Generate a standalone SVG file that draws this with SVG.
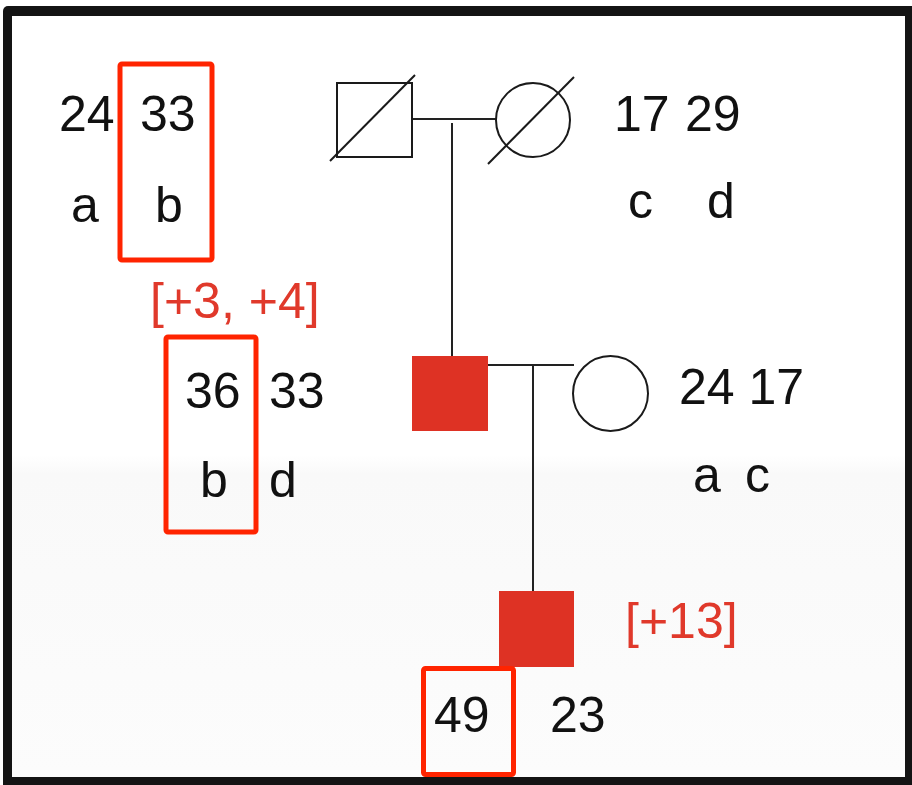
<svg xmlns="http://www.w3.org/2000/svg" width="912" height="785" viewBox="0 0 912 785">
  <defs>
    <linearGradient id="floor" x1="0" y1="0" x2="0" y2="1">
      <stop offset="0" stop-color="#ffffff"/>
      <stop offset="0.06" stop-color="#f9f9f9"/>
      <stop offset="1" stop-color="#fcfcfc"/>
    </linearGradient>
  </defs>
  <style>
    .lbl { font-family: "Liberation Sans", Arial, sans-serif; font-size: 50px; fill: #111111; }
    .gain { font-family: "Liberation Sans", Arial, sans-serif; font-size: 50px; fill: #e0392b; }
    .sym { fill: #ffffff; stroke: #1a1a1a; stroke-width: 2; }
    .aff { fill: #de3224; stroke: none; }
    .dead { stroke: #1a1a1a; stroke-width: 2; fill: none; }
    .hl { fill: none; stroke: #ff2400; stroke-width: 5; }
    .link { stroke: #222222; stroke-width: 2; fill: none; }
  </style>

  <!-- frame -->
  <rect x="3" y="6" width="915" height="785" rx="5" fill="#141414"/>
  <rect x="12" y="16" width="893" height="761" fill="#ffffff"/>
  <rect x="12" y="455" width="893" height="322" fill="url(#floor)"/>

  <!-- connectors -->
  <g id="connectors">
    <line class="link" x1="412" y1="119" x2="496" y2="119"/>
    <line class="link" x1="452" y1="123" x2="452" y2="356"/>
    <line class="link" x1="488" y1="365" x2="574" y2="365"/>
    <line class="link" x1="533" y1="365" x2="533" y2="591"/>
  </g>

  <!-- generation I -->
  <g id="grandfather">
    <rect class="sym" x="337" y="83" width="75" height="74"/>
    <line class="dead" x1="330" y1="161" x2="415" y2="75"/>
  </g>
  <g id="grandmother">
    <circle class="sym" cx="533" cy="120" r="37"/>
    <line class="dead" x1="488" y1="164" x2="574" y2="77"/>
  </g>

  <!-- generation II -->
  <g id="father">
    <rect class="aff" x="412" y="356" width="76" height="75"/>
  </g>
  <g id="mother">
    <circle class="sym" cx="610.5" cy="393.5" r="37.5"/>
  </g>

  <!-- generation III -->
  <g id="proband">
    <rect class="aff" x="499" y="591" width="75" height="76"/>
  </g>

  <!-- repeat sizes and haplotypes -->
  <g id="grandfather-alleles">
    <text class="lbl" x="59" y="131">24</text>
    <text class="lbl" x="140" y="131">33</text>
    <text class="lbl" x="71" y="222">a</text>
    <text class="lbl" x="155" y="222">b</text>
    <rect class="hl" x="120" y="64" width="92" height="196" rx="2"/>
  </g>
  <g id="grandmother-alleles">
    <text class="lbl" x="614" y="131">17</text>
    <text class="lbl" x="685" y="131">29</text>
    <text class="lbl" x="628" y="218">c</text>
    <text class="lbl" x="707" y="218">d</text>
  </g>
  <g id="father-alleles">
    <text class="gain" x="150" y="318">[+3, +4]</text>
    <text class="lbl" x="185" y="408">36</text>
    <text class="lbl" x="269" y="408">33</text>
    <text class="lbl" x="200" y="497">b</text>
    <text class="lbl" x="269" y="497">d</text>
    <rect class="hl" x="166" y="337" width="90" height="195" rx="2"/>
  </g>
  <g id="mother-alleles">
    <text class="lbl" x="679" y="404">24 17</text>
    <text class="lbl" x="693" y="492">a</text>
    <text class="lbl" x="745" y="492">c</text>
  </g>
  <g id="proband-alleles">
    <text class="gain" x="625" y="638">[+13]</text>
    <text class="lbl" x="434" y="732">49</text>
    <text class="lbl" x="550" y="732">23</text>
    <rect class="hl" x="423.5" y="668.5" width="90" height="106" rx="2"/>
  </g>
</svg>
